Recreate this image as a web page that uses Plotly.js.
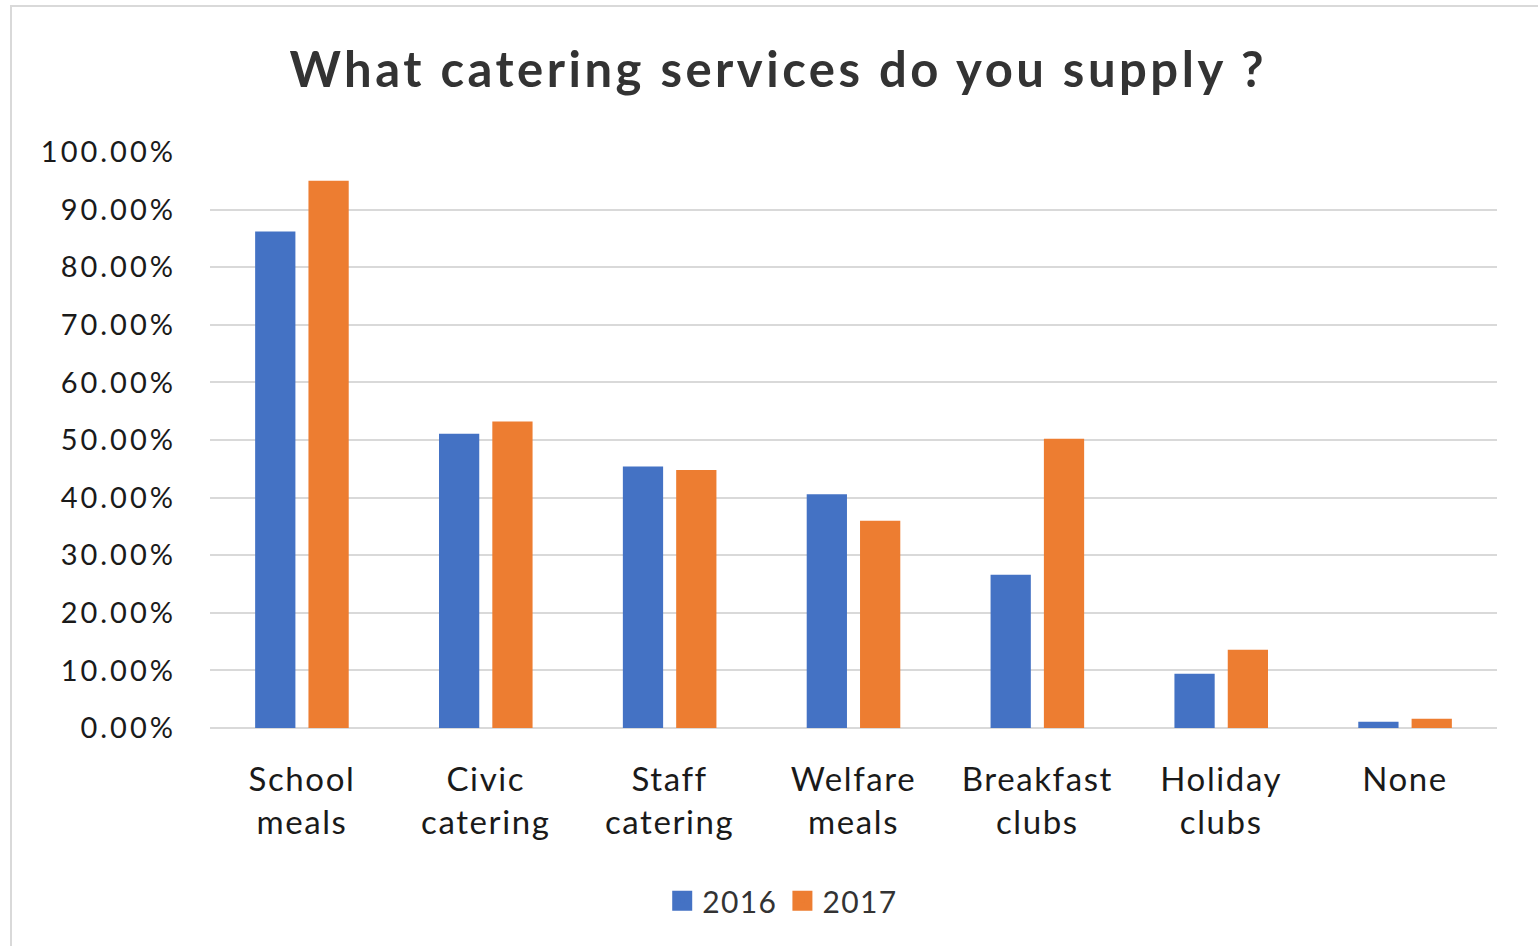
<!DOCTYPE html>
<html>
<head>
<meta charset="utf-8">
<script src="https://cdn.plot.ly/plotly-3.0.1.min.js"></script>
<style>
  html, body { margin: 0; padding: 0; background: #fff; }
  #wrap { position: relative; width: 1538px; height: 946px; }
  #chart { width: 1538px; height: 946px; }
  #frame { position: absolute; left: 10px; top: 5px; width: 1540px; height: 950px;
           border: 2px solid #d9d9d9; box-sizing: border-box; pointer-events: none; }
  .gtitle { letter-spacing: 3.5px; }
  .ytick text { letter-spacing: 3px; }
  .xtick text { letter-spacing: 1.6px; }
  .legendtext { letter-spacing: 1.4px; }
  .legendpoints path { stroke-width: 8px !important; stroke-linejoin: miter; }
</style>
</head>
<body>
<div id="wrap">
  <div id="chart"></div>
  <div id="frame"></div>
</div>
<script>
const categories = ["School<br>meals", "Civic<br>catering", "Staff<br>catering", "Welfare<br>meals", "Breakfast<br>clubs", "Holiday<br>clubs", "None"];
const values2016 = [0.862, 0.511, 0.454, 0.406, 0.266, 0.094, 0.011];
const values2017 = [0.950, 0.532, 0.448, 0.360, 0.502, 0.136, 0.016];
const seriesNames = ["2016", "2017"];
const titleText = "What catering services do you supply ?";

const traces = [
  { type: "bar", name: seriesNames[0], x: categories, y: values2016,
    marker: { color: "#4472C4", line: { color: "#4472C4", width: 0.01 } }, hoverinfo: "y" },
  { type: "bar", name: seriesNames[1], x: categories, y: values2017,
    marker: { color: "#ED7D31", line: { color: "#ED7D31", width: 0.01 } }, hoverinfo: "y" }
];

const layout = {
  width: 1538, height: 946,
  paper_bgcolor: "#ffffff", plot_bgcolor: "#ffffff",
  margin: { l: 210, r: 41, t: 152, b: 218 },
  font: { family: "Lato, 'Open Sans', sans-serif", color: "#1a1a1a" },
  title: { text: "<b>" + titleText + "</b>", x: 0.506, xanchor: "center", y: 0.926, yanchor: "middle",
           font: { size: 49, color: "#333333", family: "Lato, 'Open Sans', sans-serif" } },
  barmode: "group", bargap: 0.42, bargroupgap: 0.245,
  xaxis: { tickfont: { size: 33, color: "#1a1a1a" }, showgrid: false, showline: false,
           ticks: "", automargin: false, ticklabelstandoff: 29 },
  yaxis: { range: [0, 1], dtick: 0.1, tickformat: ".2%", showgrid: true,
           gridcolor: "#d9d9d9", gridwidth: 2, zeroline: true, zerolinecolor: "#d9d9d9",
           zerolinewidth: 2, showline: false, ticks: "", tickfont: { size: 29, color: "#1a1a1a" },
           automargin: false, ticklabelstandoff: 33 },
  showlegend: true,
  legend: { orientation: "h", x: 0.445, xanchor: "center", y: -0.30, yanchor: "middle",
            font: { size: 30, color: "#333333" }, itemwidth: 30, traceorder: "normal" }
};

Plotly.newPlot("chart", traces, layout, { displayModeBar: false, staticPlot: true });
</script>
</body>
</html>
